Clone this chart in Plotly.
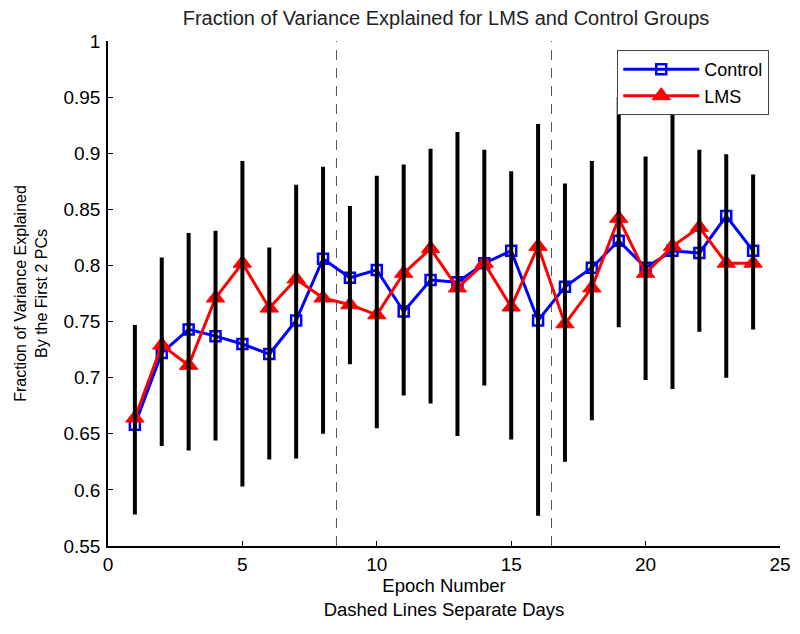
import plotly.graph_objects as go

epochs = list(range(1, 25))
control = [0.658, 0.722, 0.743, 0.737, 0.730, 0.721, 0.751, 0.806, 0.789, 0.796,
           0.759, 0.787, 0.785, 0.802, 0.813, 0.751, 0.781, 0.798, 0.822, 0.798,
           0.813, 0.811, 0.844, 0.813]
lms = [0.664, 0.729, 0.711, 0.771, 0.802, 0.762, 0.788, 0.771, 0.765, 0.756,
       0.793, 0.815, 0.780, 0.802, 0.763, 0.817, 0.748, 0.780, 0.842, 0.793,
       0.817, 0.834, 0.802, 0.802]
err_low = [0.578, 0.639, 0.635, 0.644, 0.603, 0.627, 0.628, 0.650, 0.712, 0.655,
           0.684, 0.677, 0.648, 0.693, 0.645, 0.577, 0.625, 0.662, 0.745, 0.698,
           0.690, 0.741, 0.700, 0.743]
err_high = [0.747, 0.807, 0.829, 0.831, 0.893, 0.816, 0.872, 0.888, 0.853, 0.880,
            0.890, 0.904, 0.919, 0.903, 0.884, 0.926, 0.873, 0.893, 0.950, 0.897,
            0.950, 0.903, 0.899, 0.881]
day_boundaries = [8.5, 16.5]
x_ticks = [0, 5, 10, 15, 20, 25]
y_ticks = [0.55, 0.6, 0.65, 0.7, 0.75, 0.8, 0.85, 0.9, 0.95, 1]
y_tick_labels = ["0.55", "0.6", "0.65", "0.7", "0.75", "0.8", "0.85", "0.9", "0.95", "1"]

FONT = "Liberation Sans, Arial, sans-serif"

fig = go.Figure()

fig.add_trace(go.Scatter(
    x=epochs, y=control, name="Control", mode="lines+markers",
    line=dict(color="#0000ff", width=3),
    marker=dict(symbol="square-open", size=10, color="#0000ff", line=dict(width=2.5, color="#0000ff")),
))
fig.add_trace(go.Scatter(
    x=epochs, y=lms, name="LMS", mode="lines+markers",
    line=dict(color="#ff0000", width=3),
    marker=dict(symbol="triangle-up", size=16, color="#ff0000", line=dict(width=1, color="#ff0000")),
))
fig.add_trace(go.Scatter(
    x=epochs, y=err_low, mode="markers", showlegend=False, hoverinfo="skip",
    marker=dict(size=0.1, color="rgba(0,0,0,0)"),
    error_y=dict(type="data", symmetric=False,
                 array=[h - l for h, l in zip(err_high, err_low)],
                 arrayminus=[0] * len(err_low),
                 color="black", thickness=4, width=0),
))

for xb in day_boundaries:
    fig.add_shape(type="line", x0=xb, x1=xb, xref="x", y0=0, y1=1, yref="paper",
                  line=dict(color="#555555", width=1, dash="10px,8px"), layer="below")

fig.update_layout(
    width=800, height=634,
    margin=dict(l=100, r=28, t=33, b=96),
    paper_bgcolor="white", plot_bgcolor="white",
    font=dict(family=FONT, color="black", size=19),
    title=dict(text="Fraction of Variance Explained for LMS and Control Groups",
               x=(446 - 8) / 800, xanchor="center", y=1 - 10 / 634, yanchor="middle",
               yref="container", font=dict(size=20, color="#222222")),
    legend=dict(x=0.984, xanchor="right", y=0.982, yanchor="top",
                bordercolor="#444444", borderwidth=1, bgcolor="white",
                font=dict(size=18), itemwidth=76, tracegroupgap=0),
    showlegend=True,
)
fig.update_xaxes(
    range=[0, 25], tickvals=x_ticks, ticks="inside", ticklen=5, tickwidth=1,
    tickcolor="black", showline=True, linecolor="black", linewidth=1.5,
    showgrid=False, zeroline=False, tickfont=dict(size=19),
    title=dict(text="Epoch Number<br>Dashed Lines Separate Days", font=dict(size=18.5), standoff=0),
)
fig.update_yaxes(
    range=[0.55, 1], tickvals=y_ticks, ticktext=y_tick_labels, ticks="inside", ticklen=5,
    tickwidth=1, tickcolor="black", showline=True, linecolor="black", linewidth=1.5,
    showgrid=False, zeroline=False, tickfont=dict(size=19), ticklabelstandoff=2,
    title=dict(text="Fraction of Variance Explained<br>By the First 2 PCs", font=dict(size=16), standoff=12),
)

fig.write_html("out.html")
